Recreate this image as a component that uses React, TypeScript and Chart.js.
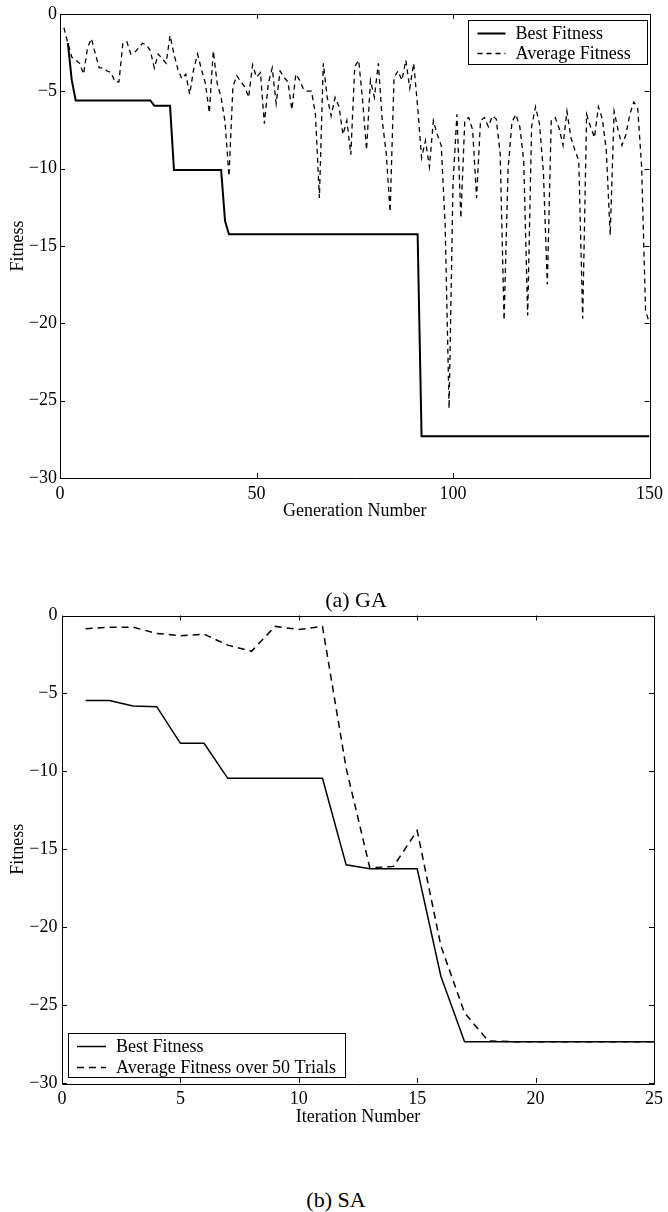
import React, { useEffect, useRef } from "react";
import { Chart, registerables } from "chart.js";

Chart.register(...registerables);

const FONT = '"Liberation Serif", "Times New Roman", serif';

// ---------- (a) GA ----------
const gaAverageFitness = [
  -0.9, -1.9, -2.8, -3.0, -3.2, -3.9, -2.2, -1.6, -2.6, -3.5,
  -3.5, -3.7, -3.8, -4.4, -4.4, -1.9, -1.8, -2.6, -2.5, -2.2,
  -1.9, -2.0, -2.4, -3.5, -2.6, -2.9, -3.2, -1.4, -2.6, -3.6,
  -4.2, -3.9, -5.2, -3.6, -2.6, -3.6, -4.5, -6.4, -2.4, -4.5,
  -5.4, -7.0, -10.5, -4.7, -4.0, -4.4, -4.7, -5.4, -3.3, -4.1,
  -3.8, -7.1, -4.5, -3.5, -5.8, -3.7, -4.1, -4.4, -6.2, -3.9,
  -4.3, -4.9, -5.0, -5.0, -6.5, -11.9, -3.2, -5.4, -6.6, -5.4,
  -6.0, -7.8, -6.9, -9.1, -3.4, -3.0, -5.6, -8.8, -4.3, -5.4,
  -3.2, -6.9, -9.0, -12.8, -4.1, -3.7, -4.3, -3.0, -4.8, -3.2,
  -6.0, -9.3, -8.2, -9.9, -6.9, -7.8, -8.5, -13.6, -25.5, -11.0,
  -6.5, -13.2, -6.9, -6.7, -7.5, -11.9, -6.9, -6.7, -7.3, -6.6,
  -6.8, -9.0, -19.8, -10.1, -7.0, -6.5, -7.3, -9.5, -19.5, -7.3,
  -6.0, -7.1, -10.2, -17.5, -6.9, -6.7, -7.4, -8.5, -6.3, -8.0,
  -8.8, -9.5, -19.7, -6.5, -7.3, -8.0, -6.0, -6.8, -8.8, -14.3,
  -6.3, -7.5, -8.5, -7.8, -6.5, -5.7, -6.1, -9.9, -19.2, -20.0,
];
const gaBestGenerations = [2, 3, 4, 23, 24, 28, 29, 41, 42, 43, 91, 92, 150];
const gaBestFitness = [-1.9, -4.3, -5.6, -5.6, -5.95, -5.95, -10.1, -10.1, -13.4, -14.25, -14.25, -27.3, -27.3];

// ---------- (b) SA ----------
const saIterations = [1, 2, 3, 4, 5, 6, 7, 8, 9, 10, 11, 12, 13, 14, 15, 16, 17, 18, 19, 20, 21, 22, 23, 24, 25];
const saBestFitness = [
  -5.45, -5.45, -5.8, -5.85, -8.2, -8.2, -10.45, -10.45, -10.45, -10.45,
  -10.45, -16.0, -16.25, -16.25, -16.25, -23.15, -27.35, -27.35, -27.35, -27.35,
  -27.35, -27.35, -27.35, -27.35, -27.35,
];
const saAverageFitness = [
  -0.85, -0.75, -0.75, -1.15, -1.3, -1.2, -1.9, -2.3, -0.7, -0.9,
  -0.7, -9.8, -16.2, -16.1, -13.8, -21.2, -25.5, -27.3, -27.35, -27.35,
  -27.35, -27.35, -27.35, -27.35, -27.35,
];

const Y_MIN = -30;
const Y_MAX = 0;

const fmt = (v: number) => (v < 0 ? "\u2212" + Math.abs(v) : String(v));

const framePlugin = {
  id: "frameTicks",
  afterDatasetsDraw(chart: any) {
    const { ctx, chartArea, scales } = chart;
    const { left, right, top, bottom } = chartArea;
    const tl = 5;
    ctx.save();
    ctx.strokeStyle = "#000";
    ctx.lineWidth = 1;
    ctx.setLineDash([]);
    ctx.beginPath();
    ctx.rect(Math.round(left) + 0.5, Math.round(top) + 0.5, Math.round(right - left), Math.round(bottom - top));
    ctx.stroke();
    ctx.beginPath();
    scales.x.ticks.forEach((t: any) => {
      const px = Math.round(scales.x.getPixelForValue(t.value)) + 0.5;
      ctx.moveTo(px, bottom);
      ctx.lineTo(px, bottom - tl);
      ctx.moveTo(px, top);
      ctx.lineTo(px, top + tl);
    });
    scales.y.ticks.forEach((t: any) => {
      const py = Math.round(scales.y.getPixelForValue(t.value)) + 0.5;
      ctx.moveTo(left, py);
      ctx.lineTo(left + tl, py);
      ctx.moveTo(right, py);
      ctx.lineTo(right - tl, py);
    });
    ctx.stroke();
    ctx.restore();
  },
};

const legendPlugin = {
  id: "boxLegend",
  afterDraw(chart: any, _args: any, opts: any) {
    const { ctx, chartArea } = chart;
    const x = opts.anchor === "topright" ? chartArea.right - opts.dx - opts.w : chartArea.left + opts.dx;
    const y = opts.anchor === "topright" ? chartArea.top + opts.dy : chartArea.bottom - opts.dy - opts.h;
    ctx.save();
    ctx.fillStyle = "#fff";
    ctx.fillRect(x, y, opts.w, opts.h);
    ctx.strokeStyle = "#000";
    ctx.lineWidth = 1;
    ctx.setLineDash([]);
    ctx.strokeRect(Math.round(x) + 0.5, Math.round(y) + 0.5, opts.w, opts.h);
    ctx.font = `18px ${FONT}`;
    ctx.textBaseline = "middle";
    ctx.textAlign = "left";
    ctx.fillStyle = "#000";
    chart.data.datasets.forEach((ds: any, i: number) => {
      const rowY = Math.round(y + opts.rows[i]) + 0.5;
      ctx.beginPath();
      ctx.setLineDash(ds.borderDash || []);
      ctx.lineWidth = ds.borderWidth;
      ctx.moveTo(x + opts.lineX0, rowY);
      ctx.lineTo(x + opts.lineX1, rowY);
      ctx.stroke();
      ctx.setLineDash([]);
      ctx.fillText(ds.label, x + opts.textX, rowY + 1);
    });
    ctx.restore();
  },
};

function makeConfig(p: any): any {
  return {
    type: "line",
    data: { datasets: p.datasets },
    plugins: [framePlugin, legendPlugin],
    options: {
      responsive: false,
      animation: false,
      devicePixelRatio: 1,
      layout: { padding: p.padding },
      elements: { point: { radius: 0 }, line: { tension: 0 } },
      plugins: {
        legend: { display: false },
        tooltip: { enabled: false },
        boxLegend: p.legend,
      },
      scales: {
        x: {
          type: "linear",
          min: p.xMin,
          max: p.xMax,
          grid: { display: false, drawTicks: false },
          border: { display: false },
          ticks: {
            stepSize: p.xStep,
            autoSkip: false,
            maxRotation: 0,
            padding: 5,
            color: "#000",
            font: { family: FONT, size: 18 },
            callback: (v: number) => fmt(v),
          },
          title: {
            display: true,
            text: p.xTitle,
            color: "#000",
            font: { family: FONT, size: 18 },
            padding: { top: 0, bottom: 0 },
          },
          afterFit: (s: any) => {
            s.height = p.xAxisHeight;
          },
        },
        y: {
          type: "linear",
          min: Y_MIN,
          max: Y_MAX,
          grid: { display: false, drawTicks: false },
          border: { display: false },
          ticks: {
            stepSize: 5,
            autoSkip: false,
            padding: p.yTickPad,
            color: "#000",
            font: { family: FONT, size: 18 },
            callback: (v: number) => fmt(v),
          },
          title: {
            display: true,
            text: "Fitness",
            color: "#000",
            font: { family: FONT, size: 18 },
            padding: { top: 7, bottom: 0 },
          },
          afterFit: (s: any) => {
            s.width = p.yAxisWidth;
          },
        },
      },
    },
  };
}

function ChartCanvas({ config, top, height }: { config: any; top: number; height: number }) {
  const ref = useRef<HTMLCanvasElement>(null);
  useEffect(() => {
    const chart = new Chart(ref.current as HTMLCanvasElement, config);
    return () => chart.destroy();
  }, []);
  return (
    <canvas
      ref={ref}
      width={668}
      height={height}
      style={{ position: "absolute", left: 0, top, width: 668, height, display: "block" }}
    />
  );
}

export default function App() {
  const gaConfig = makeConfig({
    datasets: [
      {
        label: "Best Fitness",
        data: gaBestGenerations.map((g, i) => ({ x: g, y: gaBestFitness[i] })),
        borderColor: "#000",
        borderWidth: 2,
        fill: false,
      },
      {
        label: "Average Fitness",
        data: gaAverageFitness.map((v, i) => ({ x: i + 1, y: v })),
        borderColor: "#000",
        borderWidth: 1.3,
        borderDash: [5, 4],
        fill: false,
      },
    ],
    padding: { left: 0, top: 13, right: 16, bottom: 0 },
    xMin: 0,
    xMax: 150,
    xStep: 50,
    xTitle: "Generation Number",
    xAxisHeight: 44,
    yAxisWidth: 60,
    yTickPad: 3,
    legend: { anchor: "topright", dx: 3, dy: 6, w: 179, h: 44, rows: [13.5, 33.5], lineX0: 10, lineX1: 38, textX: 48 },
  });

  const saConfig = makeConfig({
    datasets: [
      {
        label: "Best Fitness",
        data: saIterations.map((it, i) => ({ x: it, y: saBestFitness[i] })),
        borderColor: "#000",
        borderWidth: 1.5,
        fill: false,
      },
      {
        label: "Average Fitness over 50 Trials",
        data: saIterations.map((it, i) => ({ x: it, y: saAverageFitness[i] })),
        borderColor: "#000",
        borderWidth: 1.5,
        borderDash: [7, 5],
        fill: false,
      },
    ],
    padding: { left: 0, top: 15.5, right: 12, bottom: 0 },
    xMin: 0,
    xMax: 25,
    xStep: 5,
    xTitle: "Iteration Number",
    xAxisHeight: 45,
    yAxisWidth: 62,
    yTickPad: 4.5,
    legend: { anchor: "bottomleft", dx: 6, dy: 6, w: 277, h: 44, rows: [13, 34], lineX0: 9, lineX1: 38, textX: 48 },
  });

  const caption: React.CSSProperties = {
    position: "absolute",
    transform: "translate(-50%, -50%)",
    fontFamily: FONT,
    fontSize: 22,
    lineHeight: 1,
    whiteSpace: "nowrap",
    color: "#000",
  };

  return (
    <div style={{ position: "absolute", left: 0, top: 0, width: 668, height: 1212, background: "#fff" }}>
      <ChartCanvas config={gaConfig} top={0} height={522} />
      <ChartCanvas config={saConfig} top={600} height={528} />
      <div style={{ ...caption, left: 356, top: 600 }}>(a) GA</div>
      <div style={{ ...caption, left: 336, top: 1200 }}>(b) SA</div>
    </div>
  );
}
